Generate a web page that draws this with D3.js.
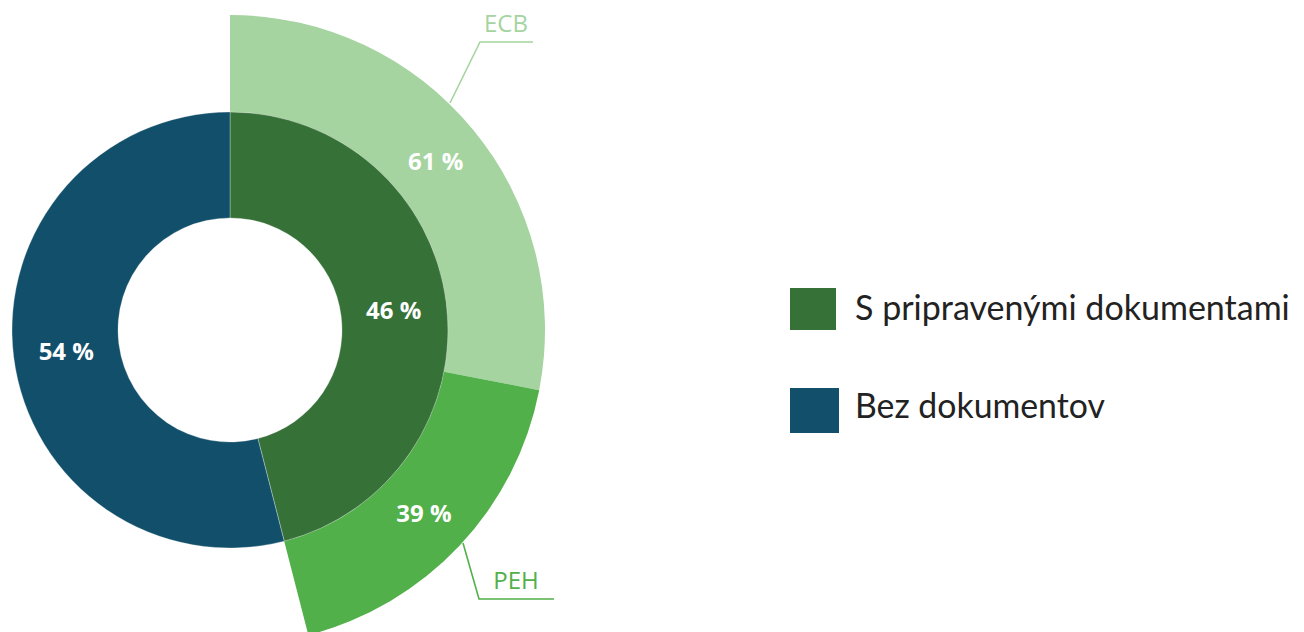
<!DOCTYPE html>
<html><head><meta charset="utf-8">
<script src="https://cdn.jsdelivr.net/npm/d3@7"></script>
<style>body{margin:0;background:#fff}svg{display:block}</style>
</head><body>
<svg id="c" width="1304" height="632"></svg>
<script>
const innerCategories = ["S pripravenými dokumentami", "Bez dokumentov"];
const innerValues = [46, 54];
const innerColors = ["#367137", "#124F6B"];
const outerCategories = ["ECB", "PEH"];
const outerValues = [61, 39];
const outerColors = ["#A5D4A0", "#52B04A"];

const svg = d3.select("#c");
const cx = 230, cy = 330;
const r0 = 112, r1 = 218, r2 = 315;
const g = svg.append("g").attr("transform", `translate(${cx},${cy})`);

const pieInner = d3.pie().sort(null).value(d => d)(innerValues);
const span = pieInner[0].endAngle;
const pieOuter = d3.pie().sort(null).value(d => d).startAngle(0).endAngle(span)(outerValues);

const arcInner = d3.arc().innerRadius(r0).outerRadius(r1);
const arcOuter = d3.arc().innerRadius(r1).outerRadius(r2);

g.selectAll("path.o").data(pieOuter).join("path").attr("class","o")
  .attr("d", arcOuter).attr("fill", (d,i) => outerColors[i]);
g.selectAll("path.i").data(pieInner).join("path").attr("class","i")
  .attr("d", arcInner).attr("fill", (d,i) => innerColors[i])
  .attr("stroke", "rgba(255,255,255,0.5)").attr("stroke-width", 0.6);

const lblStyle = s => s.attr("fill", "#fff").attr("font-family", "Open Sans")
  .attr("font-weight", "bold").attr("font-size", 24).attr("text-anchor", "middle")
  .attr("dominant-baseline", "central");
g.selectAll("text.o").data(pieOuter).join("text").attr("class","o")
  .attr("transform", d => `translate(${arcOuter.centroid(d)})`)
  .text((d,i) => outerValues[i] + " %").call(lblStyle);
g.selectAll("text.i").data(pieInner).join("text").attr("class","i")
  .attr("transform", d => `translate(${arcInner.centroid(d)})`)
  .text((d,i) => innerValues[i] + " %").call(lblStyle);

// callouts
const callouts = [
  {pts: [[450,103],[480,42],[533,42]], tx: 506, ty: 32},
  {pts: [[463,543],[479,599],[554,599]], tx: 516, ty: 589}
];
callouts.forEach((c, i) => {
  svg.append("path").attr("d", d3.line()(c.pts)).attr("fill", "none")
    .attr("stroke", outerColors[i]).attr("stroke-width", 1.6);
  svg.append("text").attr("x", c.tx).attr("y", c.ty).attr("text-anchor", "middle")
    .attr("font-family", "Open Sans").attr("font-size", 24).attr("fill", outerColors[i])
    .text(outerCategories[i]);
});

// legend
const leg = [
  {y: 288, h: 42, w: 46, ty: 320, tl: 440},
  {y: 388, h: 45, w: 49, ty: 418, tl: 250}
];
leg.forEach((l, i) => {
  svg.append("rect").attr("x", 790).attr("y", l.y).attr("width", l.w).attr("height", l.h)
    .attr("fill", innerColors[i]);
  const t = svg.append("text").attr("x", 855).attr("y", l.ty).attr("font-family", "Lato")
    .attr("font-size", 34).attr("fill", "#222")
    .text(innerCategories[i]);
  const w = t.node().getComputedTextLength();
  if (w > l.tl) t.attr("font-size", 34 * l.tl / w);
});
</script>
</body></html>
